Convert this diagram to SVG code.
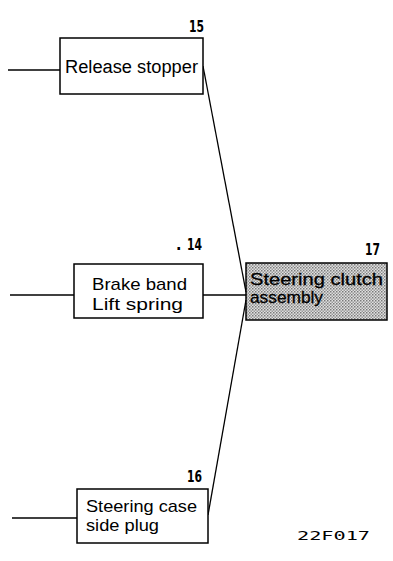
<svg xmlns="http://www.w3.org/2000/svg" width="393" height="561" viewBox="0 0 393 561">
<style>
.box{fill:#fff;stroke:#000;stroke-width:1.5}
.t{font-family:"Liberation Sans",Arial,sans-serif;font-size:18px;fill:#000}
.t2{font-family:"Liberation Sans",Arial,sans-serif;font-size:17px;fill:#000}
.tb{font-family:"Liberation Sans",Arial,sans-serif;font-size:17px;fill:#000;stroke:#000;stroke-width:0.3}
.n{font-family:"DejaVu Sans Condensed","Liberation Sans",sans-serif;font-weight:bold;font-size:16px;fill:#000}
.c{stroke:#000;stroke-width:1.3;fill:none}
</style>
<defs>
<pattern id="dots" width="3" height="3" patternUnits="userSpaceOnUse">
<rect width="3" height="3" fill="#e0e0e0"/>
<rect x="0" y="0" width="1.5" height="1.5" fill="#7a7a7a"/>
<rect x="1.5" y="1.5" width="1.5" height="1.5" fill="#9a9a9a"/>
</pattern>
</defs>
<g id="connectors">
<line class="c" x1="8" y1="70" x2="60" y2="70"/>
<line class="c" x1="10" y1="295" x2="74" y2="295"/>
<line class="c" x1="203" y1="295" x2="246" y2="295"/>
<line class="c" x1="12" y1="518" x2="77" y2="518"/>
<line class="c" x1="203" y1="66" x2="246" y2="292"/>
<line class="c" x1="208" y1="515" x2="246" y2="300"/>
</g>
<g id="node15">
<rect class="box" x="60" y="38" width="143" height="56"/>
<text class="t" x="65" y="73" textLength="133" lengthAdjust="spacingAndGlyphs">Release stopper</text>
<text class="n" x="189" y="32" transform="translate(189 0) scale(0.75 1) translate(-189 0)">15</text>
</g>
<g id="node14">
<rect class="box" x="74" y="264" width="129" height="54"/>
<text class="t2" x="92" y="290" textLength="95" lengthAdjust="spacingAndGlyphs">Brake band</text>
<text class="t2" x="92" y="310" textLength="91" lengthAdjust="spacingAndGlyphs">Lift spring</text>
<text class="n" x="176" y="250">.</text>
<text class="n" x="187" y="250" transform="translate(187 0) scale(0.75 1) translate(-187 0)">14</text>
</g>
<g id="node17">
<rect x="246" y="263" width="141" height="57" fill="url(#dots)" stroke="#000" stroke-width="1.5"/>
<text class="tb" x="250" y="285" textLength="133" lengthAdjust="spacingAndGlyphs">Steering clutch</text>
<text class="tb" x="250" y="303" textLength="73" lengthAdjust="spacingAndGlyphs">assembly</text>
<text class="n" x="365" y="255" transform="translate(365 0) scale(0.75 1) translate(-365 0)">17</text>
</g>
<g id="node16">
<rect class="box" x="77" y="489" width="131" height="54"/>
<text class="t2" x="86" y="512" textLength="111" lengthAdjust="spacingAndGlyphs">Steering case</text>
<text class="t2" x="86" y="531" textLength="73" lengthAdjust="spacingAndGlyphs">side plug</text>
<text class="n" x="187" y="482" transform="translate(187 0) scale(0.75 1) translate(-187 0)">16</text>
</g>
<text x="297" y="540" font-family="DejaVu Sans Mono,monospace" font-size="13" fill="#000" textLength="73" lengthAdjust="spacingAndGlyphs">22F017</text>
</svg>
